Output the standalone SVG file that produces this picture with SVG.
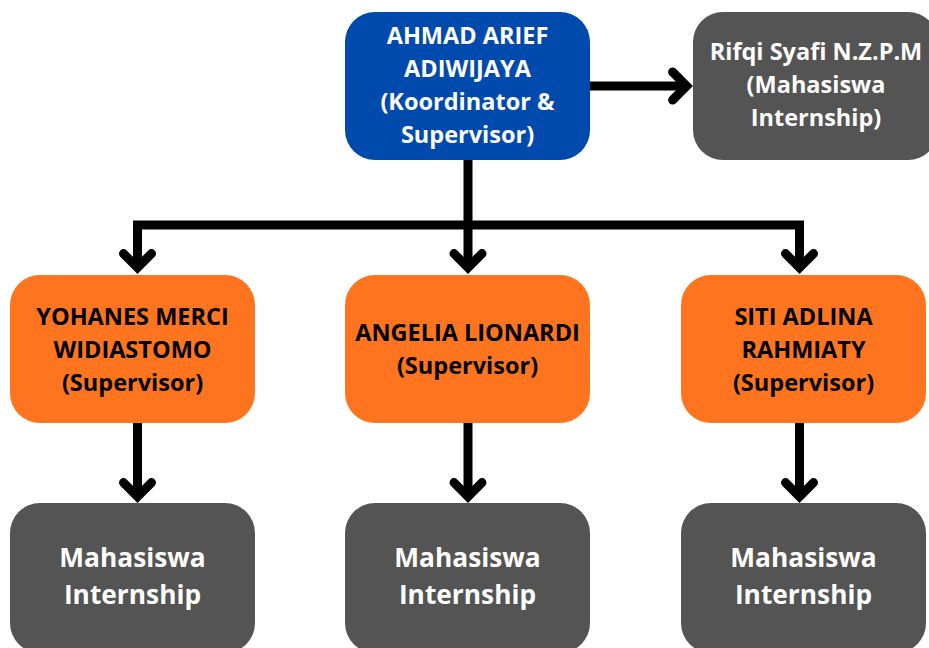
<svg xmlns="http://www.w3.org/2000/svg" width="929" height="648" viewBox="0 0 929 648">
<style>
.box{rx:30px;ry:30px}
.blue{fill:#004aad}
.orange{fill:#ff751f}
.gray{fill:#545454}
text{font-family:"Open Sans","Liberation Sans",sans-serif;font-weight:700;text-anchor:middle}
.w{fill:#ffffff;font-size:23.5px}
.k{fill:#000000;font-size:23.5px}
.big{fill:#ffffff;font-size:26.3px}
.conn path{fill:none;stroke:#000;stroke-width:9;stroke-linejoin:miter;marker-end:url(#head)}
</style>
<defs>
<marker id="head" markerUnits="userSpaceOnUse" viewBox="0 0 32 40" markerWidth="32" markerHeight="40" refX="20.4" refY="20" orient="auto" overflow="visible">
<path d="M8 6 L22 20 L8 34" fill="none" stroke="#000" stroke-width="9" stroke-linecap="round" stroke-linejoin="miter"/>
</marker>
</defs>
<rect width="929" height="648" fill="#ffffff"/>
<g class="conn" id="connectors">
<path d="M590 86 H685"/>
<path d="M468 160 V266"/>
<path d="M468 225 H137.5 V266"/>
<path d="M468 225 H799.5 V266"/>
<path d="M137.5 423 V495"/>
<path d="M468 423 V495"/>
<path d="M799.5 423 V495"/>
</g>
<g id="ahmad">
<rect class="box blue" x="345" y="12" width="245" height="148"/>
<text class="w" x="467.5" y="44">AHMAD ARIEF</text>
<text class="w" x="467.5" y="77">ADIWIJAYA</text>
<text class="w" x="467.5" y="110">(Koordinator &amp;</text>
<text class="w" x="467.5" y="143">Supervisor)</text>
</g>
<g id="rifqi">
<rect class="box gray" x="693" y="12" width="245" height="148"/>
<text class="w" x="816" y="60">Rifqi Syafi N.Z.P.M</text>
<text class="w" x="816" y="93">(Mahasiswa</text>
<text class="w" x="816" y="126">Internship)</text>
</g>
<g id="yohanes">
<rect class="box orange" x="10" y="275" width="245" height="148"/>
<text class="k" x="132.5" y="325">YOHANES MERCI</text>
<text class="k" x="132.5" y="358">WIDIASTOMO</text>
<text class="k" x="132.5" y="391">(Supervisor)</text>
</g>
<g id="angelia">
<rect class="box orange" x="345" y="275" width="245" height="148"/>
<text class="k" x="467.5" y="341">ANGELIA LIONARDI</text>
<text class="k" x="467.5" y="374">(Supervisor)</text>
</g>
<g id="siti">
<rect class="box orange" x="681" y="275" width="245" height="148"/>
<text class="k" x="803.5" y="325">SITI ADLINA</text>
<text class="k" x="803.5" y="358">RAHMIATY</text>
<text class="k" x="803.5" y="391">(Supervisor)</text>
</g>
<g id="intern1">
<rect class="box gray" x="10" y="503" width="245" height="150"/>
<text class="big" x="132.5" y="567">Mahasiswa</text>
<text class="big" x="132.5" y="604">Internship</text>
</g>
<g id="intern2">
<rect class="box gray" x="345" y="503" width="245" height="150"/>
<text class="big" x="467.5" y="567">Mahasiswa</text>
<text class="big" x="467.5" y="604">Internship</text>
</g>
<g id="intern3">
<rect class="box gray" x="681" y="503" width="245" height="150"/>
<text class="big" x="803.5" y="567">Mahasiswa</text>
<text class="big" x="803.5" y="604">Internship</text>
</g>
</svg>
